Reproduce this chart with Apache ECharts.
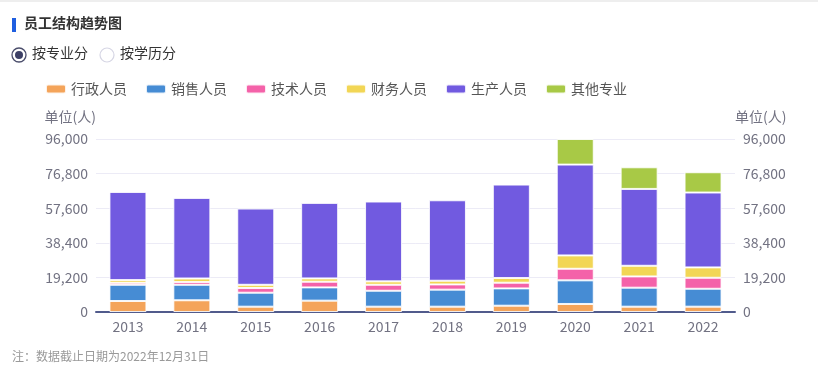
<!DOCTYPE html>
<html>
<head>
<meta charset="utf-8">
<script src="https://cdn.jsdelivr.net/npm/echarts@6/dist/echarts.min.js"></script>
<style>
html,body{margin:0;padding:0;background:#fff;}
#c{width:818px;height:391px;}
</style>
</head>
<body>
<div id="c"></div>
<script>
const years = ['2013','2014','2015','2016','2017','2018','2019','2020','2021','2022'];
const seriesNames = ['行政人员','销售人员','技术人员','财务人员','生产人员','其他专业'];
const admin      = [6100, 6500, 2950, 6300, 2950, 2950, 3500, 4450, 2950, 2950];
const sales      = [9000, 8600, 7750, 7350, 8850, 9450, 9600, 13100, 10550, 9950];
const tech       = [1100, 1500, 2600, 3150, 3300, 2900, 3150, 6450, 6250, 6100];
const finance    = [1500, 2000, 1800, 1850, 1900, 2050, 2600, 7400, 5900, 5750];
const production = [48900, 44700, 42300, 41900, 44300, 44650, 51850, 50400, 42650, 41550];
const other      = [null, null, null, null, null, null, null, 14200, 12000, 11250];
const yTicks = [0, 19200, 38400, 57600, 76800, 96000];

const colors = ['#f4a45a','#468cd4','#f462a9','#f2d655','#715ae0','#a8c946'];
const dataSets = [admin, sales, tech, finance, production, other];
const FONT = '"Noto Sans CJK SC", "Noto Sans", sans-serif';

const chart = echarts.init(document.getElementById('c'), null, {renderer: 'canvas'});

const yAxisCommon = {
  type: 'value',
  min: yTicks[0],
  max: yTicks[yTicks.length - 1],
  interval: yTicks[1] - yTicks[0],
  name: '单位(人)',
  nameGap: 15,
  axisLine: {show: false},
  axisTick: {show: false},
  axisLabel: {color: '#727282', fontSize: 14, fontFamily: FONT,
    formatter: v => v.toLocaleString('en-US')},
  splitLine: {lineStyle: {color: '#ecebf6', width: 1}}
};

chart.setOption({
  animation: false,
  textStyle: {fontFamily: FONT},
  color: colors,
  graphic: [
    {type: 'rect', left: 0, top: 0, shape: {width: 818, height: 2}, style: {fill: '#eeeeee'}},
    {type: 'rect', left: 12, top: 18, shape: {width: 4, height: 14}, style: {fill: '#1f5fe0'}},
    {type: 'text', left: 24, top: 16, style: {text: '员工结构趋势图', font: 'bold 14px ' + FONT, fill: '#333333'}},
    {type: 'circle', shape: {cx: 19, cy: 55, r: 7}, style: {fill: '#fff', stroke: '#4a4d6b', lineWidth: 1.3}},
    {type: 'circle', shape: {cx: 19, cy: 55, r: 4}, style: {fill: '#3d4066'}},
    {type: 'text', left: 32, top: 46, style: {text: '按专业分', font: '14px ' + FONT, fill: '#333333'}},
    {type: 'circle', shape: {cx: 107, cy: 55, r: 7}, style: {fill: '#fff', stroke: '#d6d6e4', lineWidth: 1.2}},
    {type: 'text', left: 120, top: 46, style: {text: '按学历分', font: '14px ' + FONT, fill: '#333333'}},
    {type: 'text', left: 12, top: 350, style: {text: '注：数据截止日期为2022年12月31日', font: '12px ' + FONT, fill: '#999999'}}
  ],
  legend: {
    left: 40, top: 77,
    itemWidth: 20, itemHeight: 9, itemGap: 18,
    icon: 'roundRect',
    textStyle: {color: '#555555', fontSize: 14, fontFamily: FONT},
    data: seriesNames
  },
  grid: {left: 96, right: 83, top: 139, bottom: 79, containLabel: false},
  xAxis: {
    type: 'category',
    data: years,
    axisLine: {lineStyle: {color: '#515b8c', width: 2}},
    axisTick: {alignWithLabel: true, length: 5, lineStyle: {color: '#515b8c', width: 2}},
    axisLabel: {color: '#727282', fontSize: 14, fontFamily: FONT, margin: 8}
  },
  yAxis: [
    Object.assign({}, yAxisCommon, {position: 'left',
      nameTextStyle: {color: '#727282', fontSize: 14, fontFamily: FONT, align: 'right'}}),
    Object.assign({}, yAxisCommon, {position: 'right',
      nameTextStyle: {color: '#727282', fontSize: 14, fontFamily: FONT, align: 'left'}})
  ],
  series: seriesNames.map((n, i) => ({
    name: n,
    type: 'bar',
    stack: 'total',
    barWidth: 37,
    yAxisIndex: 0,
    itemStyle: {color: colors[i], borderColor: 'rgba(255,255,255,0.85)', borderWidth: 1},
    data: dataSets[i].map(v => v === null ? '-' : v)
  }))
});
</script>
</body>
</html>
